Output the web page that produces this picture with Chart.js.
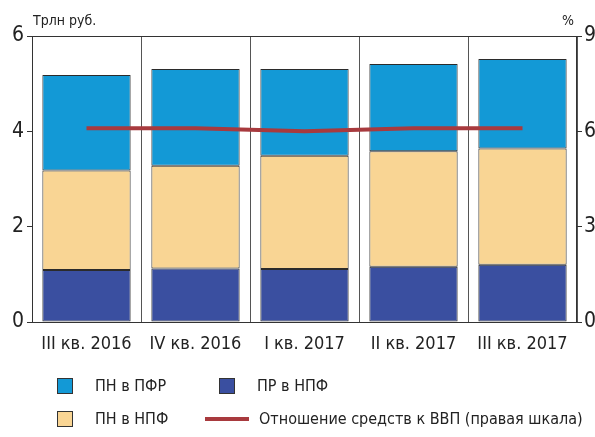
<!DOCTYPE html>
<html>
<head>
<meta charset="utf-8">
<script src="https://cdn.jsdelivr.net/npm/chart.js@4.4.0/dist/chart.umd.min.js"></script>
<style>
  body { margin: 0; background: #fff; font-family: "DejaVu Sans Condensed", "Liberation Sans Narrow", sans-serif; }
  #wrap { position: relative; width: 595px; height: 437px; }
  .unit { position: absolute; top: 12px; font-size: 14px; color: #222; }
  .legend { position: absolute; font-size: 16px; color: #222; display: flex; align-items: center; }
  .legend .box { width: 16px; height: 16px; border: 1px solid #333; box-sizing: border-box; margin-right: 22px; }
  .legend .ln { width: 44px; height: 4px; background: #a83a3e; margin-right: 10px; }
</style>
</head>
<body>
<div id="wrap">
  <canvas id="chart" width="595" height="437"></canvas>
  <div class="unit" style="left:33px">Трлн руб.</div>
  <div class="unit" style="left:562px">%</div>
  <div class="legend" style="left:57px; top:376px"><span class="box" style="background:#1399d6"></span>ПН в ПФР</div>
  <div class="legend" style="left:219px; top:376px"><span class="box" style="background:#3a4fa0"></span>ПР в НПФ</div>
  <div class="legend" style="left:57px; top:409px"><span class="box" style="background:#f9d594"></span>ПН в НПФ</div>
  <div class="legend" style="left:205px; top:409px"><span class="ln"></span>Отношение средств к ВВП (правая шкала)</div>
</div>
<script>
// Quarters
const categories = ['III кв. 2016', 'IV кв. 2016', 'I кв. 2017', 'II кв. 2017', 'III кв. 2017'];

// Trillion roubles, stacked bottom to top
const prNpf = [1.09, 1.12, 1.11, 1.16, 1.20];
const pnNpf = [2.09, 2.16, 2.38, 2.42, 2.44];
const pnPfr = [2.00, 2.03, 1.82, 1.83, 1.88];

// Share of GDP, %, right axis
const gdpRatio = [6.1, 6.1, 6.0, 6.1, 6.1];

const leftTicks = [0, 2, 4, 6];
const rightTicks = [0, 3, 6, 9];

const FONT = '"DejaVu Sans Condensed", "Liberation Sans Narrow", sans-serif';

// frame around the plot area
const framePlugin = {
    id: 'frame',
    afterDatasetsDraw(chart) {
        const { ctx, chartArea: a } = chart;
        ctx.save();
        ctx.strokeStyle = '#333';
        ctx.lineWidth = 1;
        ctx.strokeRect(a.left + 0.5, a.top + 0.5, a.right - a.left - 1, a.bottom - a.top);
        ctx.restore();
    }
};

function barSet(label, data, color) {
    return {
        type: 'bar',
        label: label,
        data: data,
        backgroundColor: color,
        borderColor: '#2b2b2b',
        borderWidth: 1,
        borderSkipped: false,
        yAxisID: 'y',
        stack: 's',
        categoryPercentage: 1,
        barPercentage: 0.81,
        order: 2
    };
}

new Chart(document.getElementById('chart'), {
    data: {
        labels: categories,
        datasets: [
            {
                type: 'line',
                label: 'Отношение средств к ВВП (правая шкала)',
                data: gdpRatio,
                borderColor: '#a83a3e',
                borderWidth: 4,
                pointRadius: 0,
                tension: 0,
                yAxisID: 'y1',
                order: 1
            },
            barSet('ПР в НПФ', prNpf, '#3a4fa0'),
            barSet('ПН в НПФ', pnNpf, '#f9d594'),
            barSet('ПН в ПФР', pnPfr, '#1399d6')
        ]
    },
    options: {
        responsive: false,
        animation: false,
        layout: { padding: { top: 36, left: 4, right: 0, bottom: 82 } },
        plugins: {
            legend: { display: false },
            tooltip: { enabled: false }
        },
        scales: {
            x: {
                stacked: true,
                offset: true,
                grid: { offset: true, color: '#555', lineWidth: 1, drawTicks: false },
                border: { display: false },
                ticks: { color: '#222', font: { family: FONT, size: 18 }, padding: 12 },
                afterFit: axis => { axis.height = 33; }
            },
            y: {
                stacked: true,
                position: 'left',
                min: 0,
                max: 6,
                afterBuildTicks: axis => { axis.ticks = leftTicks.map(v => ({ value: v })); },
                afterFit: axis => { axis.width = 28; },
                grid: { drawOnChartArea: false, color: '#333', tickLength: 5 },
                border: { display: false },
                ticks: { color: '#222', font: { family: FONT, size: 21 }, padding: 3 }
            },
            y1: {
                position: 'right',
                min: 0,
                max: 9,
                afterBuildTicks: axis => { axis.ticks = rightTicks.map(v => ({ value: v })); },
                afterFit: axis => { axis.width = 18; },
                grid: { drawOnChartArea: false, color: '#333', tickLength: 5 },
                border: { display: false },
                ticks: { color: '#222', font: { family: FONT, size: 21 }, padding: 2 }
            }
        }
    },
    plugins: [framePlugin]
});
</script>
</body>
</html>
